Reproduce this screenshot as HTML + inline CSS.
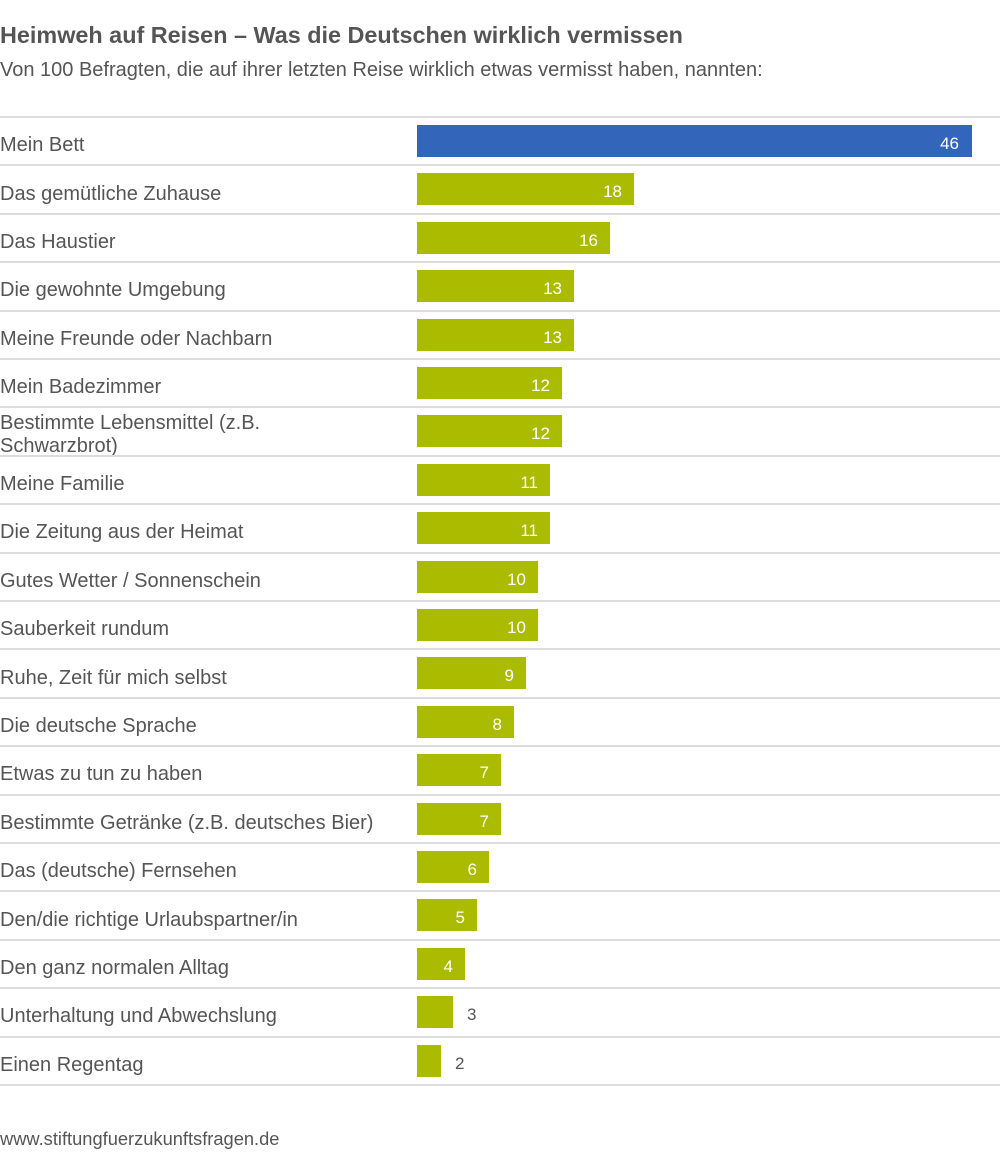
<!DOCTYPE html>
<html><head><meta charset="utf-8"><style>
body{margin:0;width:1000px;height:1153px;background:#fff;font-family:"Liberation Sans",Arial,sans-serif;color:#555;position:relative;overflow:hidden}
.t{position:absolute;left:0;top:22px;font-size:23.4px;font-weight:bold;color:#555;white-space:nowrap}
.s{position:absolute;left:0;top:59px;font-size:20px;color:#555;white-space:nowrap}
.f{position:absolute;left:0;top:1128px;font-size:18.3px;color:#555}
.line{position:absolute;left:0;width:1000px;height:2px;background:#dcdcdc}
.lab{position:absolute;left:0;font-size:20px;line-height:23px;color:#555;white-space:nowrap}
.bar{position:absolute;left:417px;height:32px;background:#aabb00}
.v{position:absolute;font-size:17px;color:#fff;text-align:right}
.o{position:absolute;font-size:17px;color:#555}
</style></head><body>
<div class="t">Heimweh auf Reisen – Was die Deutschen wirklich vermissen</div>
<div class="s">Von 100 Befragten, die auf ihrer letzten Reise wirklich etwas vermisst haben, nannten:</div>
<div id="c"></div>
<div class="f">www.stiftungfuerzukunftsfragen.de</div>
<script>
(function(){
var d=[["Mein Bett",46],["Das gemütliche Zuhause",18],["Das Haustier",16],["Die gewohnte Umgebung",13],["Meine Freunde oder Nachbarn",13],["Mein Badezimmer",12],["Bestimmte Lebensmittel (z.B.<br>Schwarzbrot)",12],["Meine Familie",11],["Die Zeitung aus der Heimat",11],["Gutes Wetter / Sonnenschein",10],["Sauberkeit rundum",10],["Ruhe, Zeit für mich selbst",9],["Die deutsche Sprache",8],["Etwas zu tun zu haben",7],["Bestimmte Getränke (z.B. deutsches Bier)",7],["Das (deutsche) Fernsehen",6],["Den/die richtige Urlaubspartner/in",5],["Den ganz normalen Alltag",4],["Unterhaltung und Abwechslung",3],["Einen Regentag",2]];
var h="",p=48.4;
for(var i=0;i<d.length;i++){var ty=116+i*p;h+='<div class="line" style="top:'+ty+'px"></div>';
var cy=ty+1+p/2;var two=d[i][0].indexOf("<br>")>=0;
h+='<div class="lab" style="top:'+(two?cy-20:cy-7)+'px">'+d[i][0]+'</div>';
var w=Math.round(d[i][1]*12.07);var bt=ty+9;
h+='<div class="bar" style="top:'+bt+'px;width:'+w+'px;'+(i==0?'background:#3366bb':'')+'"></div>';
if(d[i][1]>3.5)h+='<div class="v" style="top:'+(bt+9)+'px;left:'+(417+w-60)+'px;width:'+(i==0?47:48)+'px">'+d[i][1]+'</div>';
else h+='<div class="o" style="top:'+(bt+9)+'px;left:'+(417+w+14)+'px">'+d[i][1]+'</div>';}
h+='<div class="line" style="top:'+(116+20*p)+'px"></div>';
document.getElementById("c").innerHTML=h;
})();
</script>
</body></html>
